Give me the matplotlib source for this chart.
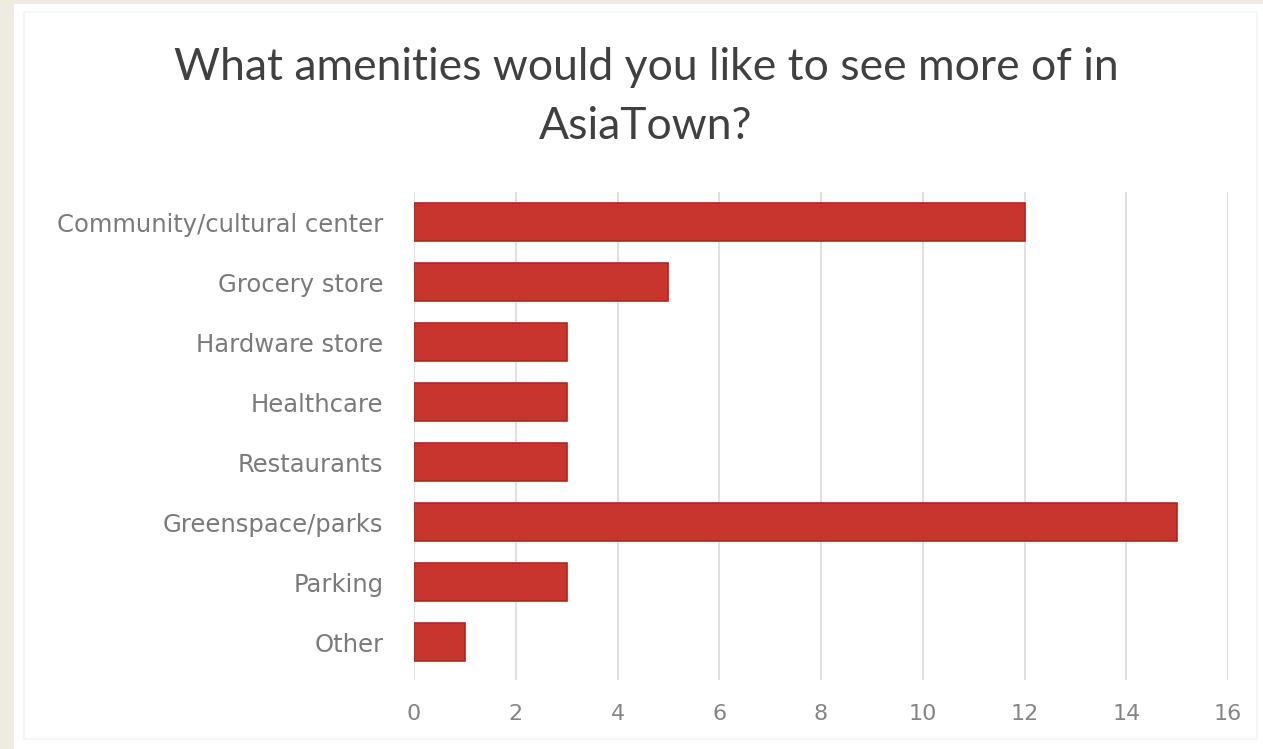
import numpy as np
import matplotlib.pyplot as plt
from matplotlib.patches import Rectangle

# survey answers, top to bottom
amenities = ["Community/cultural center", "Grocery store", "Hardware store", "Healthcare",
             "Restaurants", "Greenspace/parks", "Parking", "Other"]
counts = [12, 5, 3, 3, 3, 15, 3, 1]
x_ticks = [0, 2, 4, 6, 8, 10, 12, 14, 16]

W, H = 1263, 749
fig = plt.figure(figsize=(W / 100, H / 100), dpi=100)
fig.patch.set_facecolor("#EEEBE0")

# white chart card
card = Rectangle((14 / W, 0), 1 - 14 / W, 1 - 4 / H, transform=fig.transFigure,
                 facecolor="white", edgecolor="none", zorder=-2)
fig.patches.append(card)
edge = Rectangle((24 / W, 10 / H), 1 - 30 / W, 1 - 22 / H, transform=fig.transFigure,
                 facecolor="none", edgecolor="#F5F5F5", lw=1.2, zorder=-1)
fig.patches.append(edge)

ax = fig.add_axes([414 / W, 1 - 680 / H, (1228 - 414) / W, (680 - 192) / H])
ax.set_facecolor("none")
ax.set_zorder(2)

y = np.arange(len(amenities))
ax.barh(y, counts, height=0.63, color="#C8352E", edgecolor="#A8291F", lw=1.2, zorder=3)

ax.set_xlim(0, 16)
ax.set_ylim(7.63, -0.5)
ax.set_xticks(x_ticks)
ax.set_xticklabels([str(t) for t in x_ticks])
ax.set_yticks(y)
ax.set_yticklabels(amenities)

ax.grid(axis="x", color="#DADADA", lw=1.2, zorder=0)
for s in ax.spines.values():
    s.set_visible(False)
ax.tick_params(axis="y", length=0, labelsize=17.5, pad=22)
ax.tick_params(axis="x", length=0, labelsize=16, pad=17)
for lab in ax.get_yticklabels():
    lab.set_fontfamily("DejaVu Sans")
    lab.set_color("#7A7A7A")
for lab in ax.get_xticklabels():
    lab.set_fontfamily("DejaVu Sans")
    lab.set_color("#858585")

fig.text(646 / W, 1 - 97 / H, "What amenities would you like to see more of in\nAsiaTown?",
         ha="center", va="center", fontsize=32, family="Lato", color="#404040",
         linespacing=1.55)

fig.savefig("out.png", dpi=100)
